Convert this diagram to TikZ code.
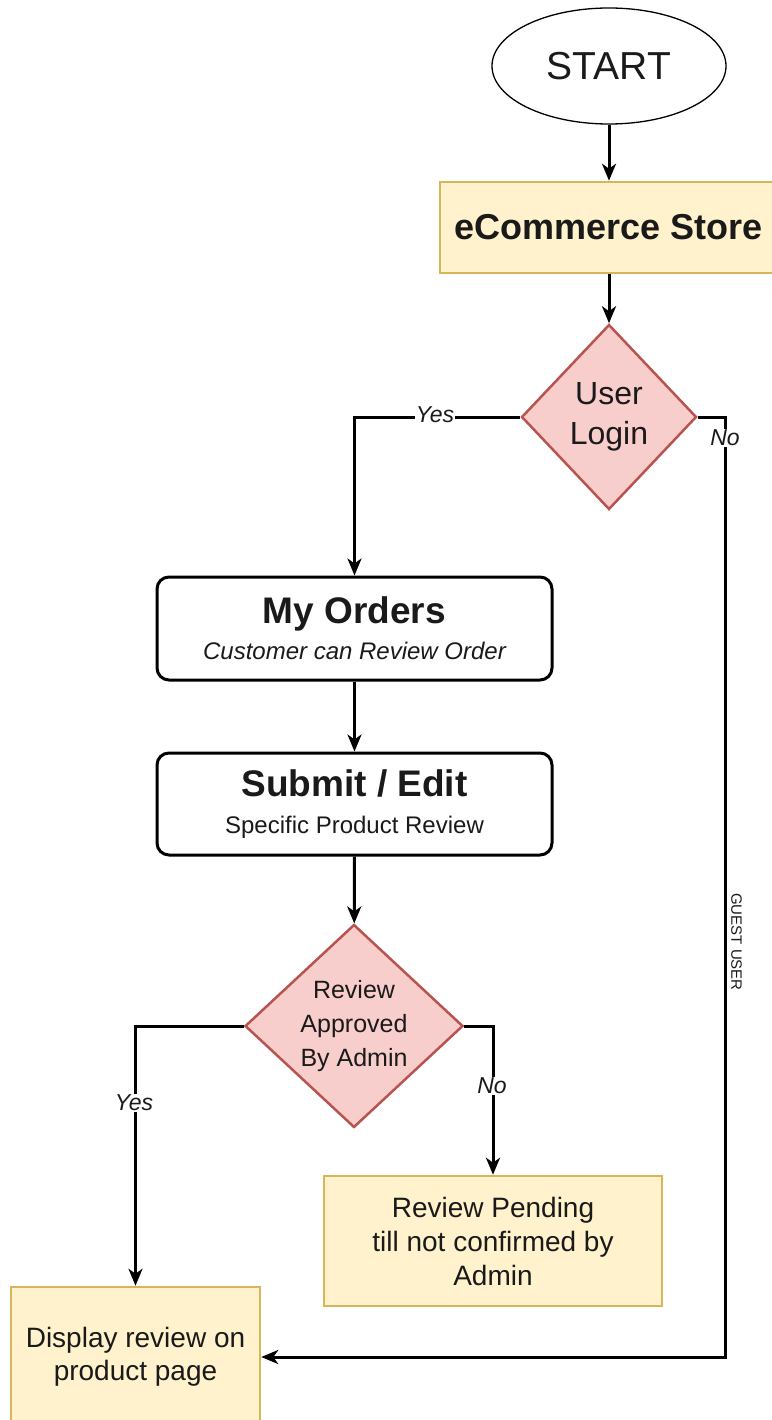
\documentclass[tikz,border=0pt]{standalone}
\usepackage{fontspec}
\setmainfont{Liberation Sans}
\usetikzlibrary{shapes.geometric,arrows.meta}
\definecolor{yfill}{HTML}{FFF2CC}
\definecolor{ydraw}{HTML}{D6B656}
\definecolor{rfill}{HTML}{F8CECC}
\definecolor{rdraw}{HTML}{B85450}
\definecolor{txt}{HTML}{1A1A1A}
\begin{document}
\begin{tikzpicture}[x=1pt,y=-1pt,
  conn/.style={line width=3pt, draw=black},
  arr/.style={conn, -{Stealth[length=17pt,width=14pt,inset=5pt]}},
  ybox/.style={rectangle, draw=ydraw, fill=yfill, line width=2.5pt, inner sep=0pt, align=center, text=txt},
  rdia/.style={diamond, draw=rdraw, fill=rfill, line width=2.5pt, inner sep=0pt, align=center, text=txt},
  rbox/.style={rectangle, rounded corners=12pt, draw=black, line width=3pt, fill=white, inner sep=0pt, align=center, text=txt},
  lab/.style={fill=white, inner sep=1pt, font=\fontsize{23}{27}\selectfont\itshape, text=txt}
]
\useasboundingbox[fill=white] (0,0) rectangle (771,1420);

% nodes
\node[ellipse, draw=black, line width=1.3pt, fill=white, minimum width=234pt, minimum height=116pt, inner sep=0pt, text=txt,
      font=\fontsize{39}{44}\selectfont] (start) at (609,66) {START};
\node[ybox, minimum width=338pt, minimum height=91pt, font=\fontsize{36}{42}\selectfont\bfseries] (store) at (609,227.5) {eCommerce Store};
\node[rdia, minimum width=175pt, minimum height=185pt, font=\fontsize{32}{40}\selectfont] (login) at (609,417) {User\\Login};
\node[rbox, minimum width=395pt, minimum height=103pt, font=\fontsize{24}{36}\selectfont] (orders) at (354.5,628.5)
  {{\fontsize{37}{42}\selectfont\bfseries My Orders}\\{\fontsize{24}{28}\selectfont\itshape Customer can Review Order}};
\node[rbox, minimum width=395pt, minimum height=102pt, font=\fontsize{24}{37}\selectfont] (submit) at (354.5,804)
  {{\fontsize{37}{42}\selectfont\bfseries Submit / Edit}\\{\fontsize{24}{28}\selectfont Specific Product Review}};
\node[rdia, minimum width=218pt, minimum height=203pt, font=\fontsize{25}{34}\selectfont] (review) at (354,1026) {Review\\Approved\\By Admin};
\node[ybox, minimum width=338pt, minimum height=130pt, font=\fontsize{28}{34}\selectfont] (pending) at (493,1241)
  {Review Pending\\till not confirmed by\\Admin};
\node[ybox, minimum width=249pt, minimum height=140pt, font=\fontsize{28}{33}\selectfont] (display) at (135.5,1357)
  {Display review on\\product page};

\coordinate (nocorner) at (725,417);
\coordinate (nobottom) at (725,1357);

% connectors
\draw[arr] (start) -- (store);
\draw[arr] (store) -- (login);
\draw[arr] (login.west) -| (orders.north);
\draw[arr] (login.east) -- (nocorner) -- (nobottom) -- (display.east);
\draw[arr] (orders) -- (submit);
\draw[arr] (submit) -- (review);
\draw[arr] (review.west) -| (display.north);
\draw[arr] (review.east) -| (pending.north);

% labels
\node[lab] (yes1) at (435,415) {Yes};
\node[lab] (no1) at (725,438) {No};
\node[fill=white, inner sep=1pt, rotate=-90, anchor=south, text=txt, font=\fontsize{15}{18}\selectfont] (guest) at (730,942) {GUEST USER};
\node[lab] (yes2) at (134,1103) {Yes};
\node[lab] (no2) at (492,1086) {No};
\end{tikzpicture}
\end{document}
